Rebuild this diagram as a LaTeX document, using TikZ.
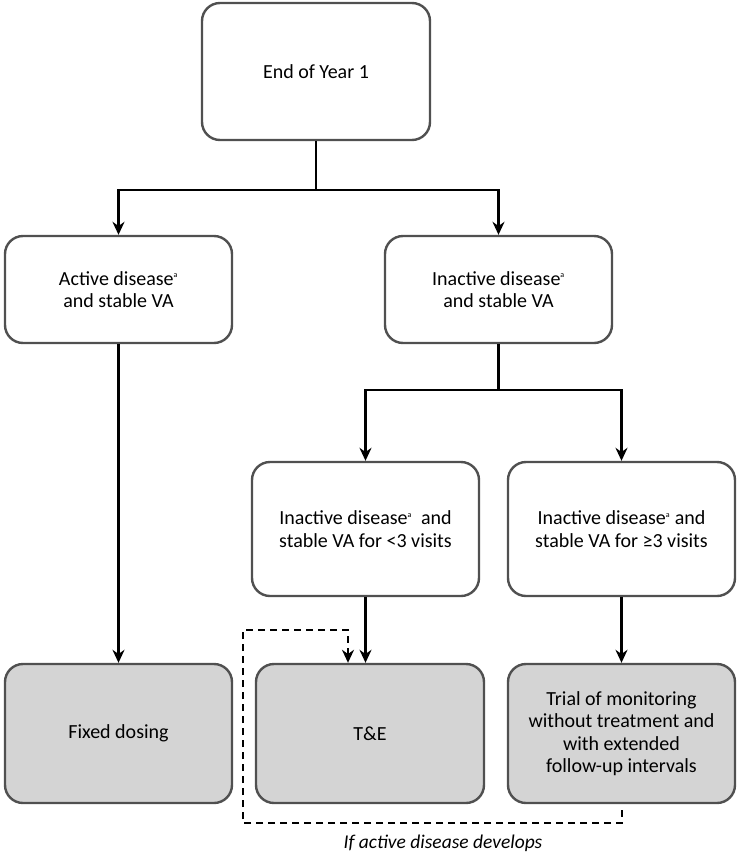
\documentclass[tikz,border=0pt]{standalone}
\usepackage{fontspec}
\setmainfont{Carlito}
\usetikzlibrary{arrows.meta}
\definecolor{boxline}{HTML}{505050}
\definecolor{boxfill}{HTML}{D4D4D4}
\tikzset{
  box/.style={draw=boxline, line width=2.4pt, rounded corners=18pt, fill=white,
    minimum width=227pt, inner sep=4pt, align=center, font=\fontsize{20}{22.5}\selectfont},
  endbox/.style={box, fill=boxfill},
  conn/.style={line width=2.2pt, black},
  arr/.style={conn, -{Stealth[length=13pt,width=12pt]}},
  dasharr/.style={line width=2.2pt, dash pattern=on 7pt off 5pt, -{Stealth[length=13pt,width=12pt]}},
}
\newcommand{\supa}{\textsuperscript{\footnotesize a}}
\begin{document}
\begin{tikzpicture}[x=1pt,y=-1pt]
\useasboundingbox (0,0) rectangle (739,860);
\node[box, minimum height=137pt, minimum width=228pt] (top) at (316,71.5) {End of Year 1};
\node[box, minimum height=107pt] (act) at (118.5,289.5) {Active disease\supa\\and stable VA};
\node[box, minimum height=107pt] (inact) at (498.5,289.5) {Inactive disease\supa\\and stable VA};
\node[box, minimum height=134pt] (lt) at (365.5,529) {Inactive disease\supa{}\ \ and\\stable VA for <3 visits};
\node[box, minimum height=134pt] (ge) at (621.5,529) {Inactive disease\supa{} and\\stable VA for \char"2265 3 visits};
\node[endbox, minimum height=139pt] (fix) at (118.5,733.5) {Fixed dosing};
\node[endbox, minimum height=139pt, minimum width=228pt] (te) at (370,733.5) {T\&E};
\node[endbox, minimum height=139pt] (trial) at (621.5,733.5) {Trial of monitoring\\without treatment and\\with extended\\follow-up intervals};
\node[font=\fontsize{19.5}{22}\selectfont\itshape] (lbl) at (443,843) {If active disease develops};

\coordinate (j1) at (316,190);
\coordinate (j2) at (498.5,390);
\draw[conn] (top.south) -- (j1);
\draw[arr] (j1) -| (act.north);
\draw[arr] (j1) -| (inact.north);
\draw[conn] (inact.south) -- (j2);
\draw[arr] (j2) -| (lt.north);
\draw[arr] (j2) -| (ge.north);
\draw[arr] (act.south) -- (fix.north);
\draw[arr] (lt.south) -- (lt.south |- te.north);
\draw[arr] (ge.south) -- (trial.north);
\coordinate (d0) at (622,810);
\coordinate (d1) at (243,823);
\coordinate (d2) at (243,630);
\draw[dasharr] (d0) -- (d0 |- d1) -- (d1) -- (d2) -| ([xshift=-22pt]te.north);
\end{tikzpicture}
\end{document}
